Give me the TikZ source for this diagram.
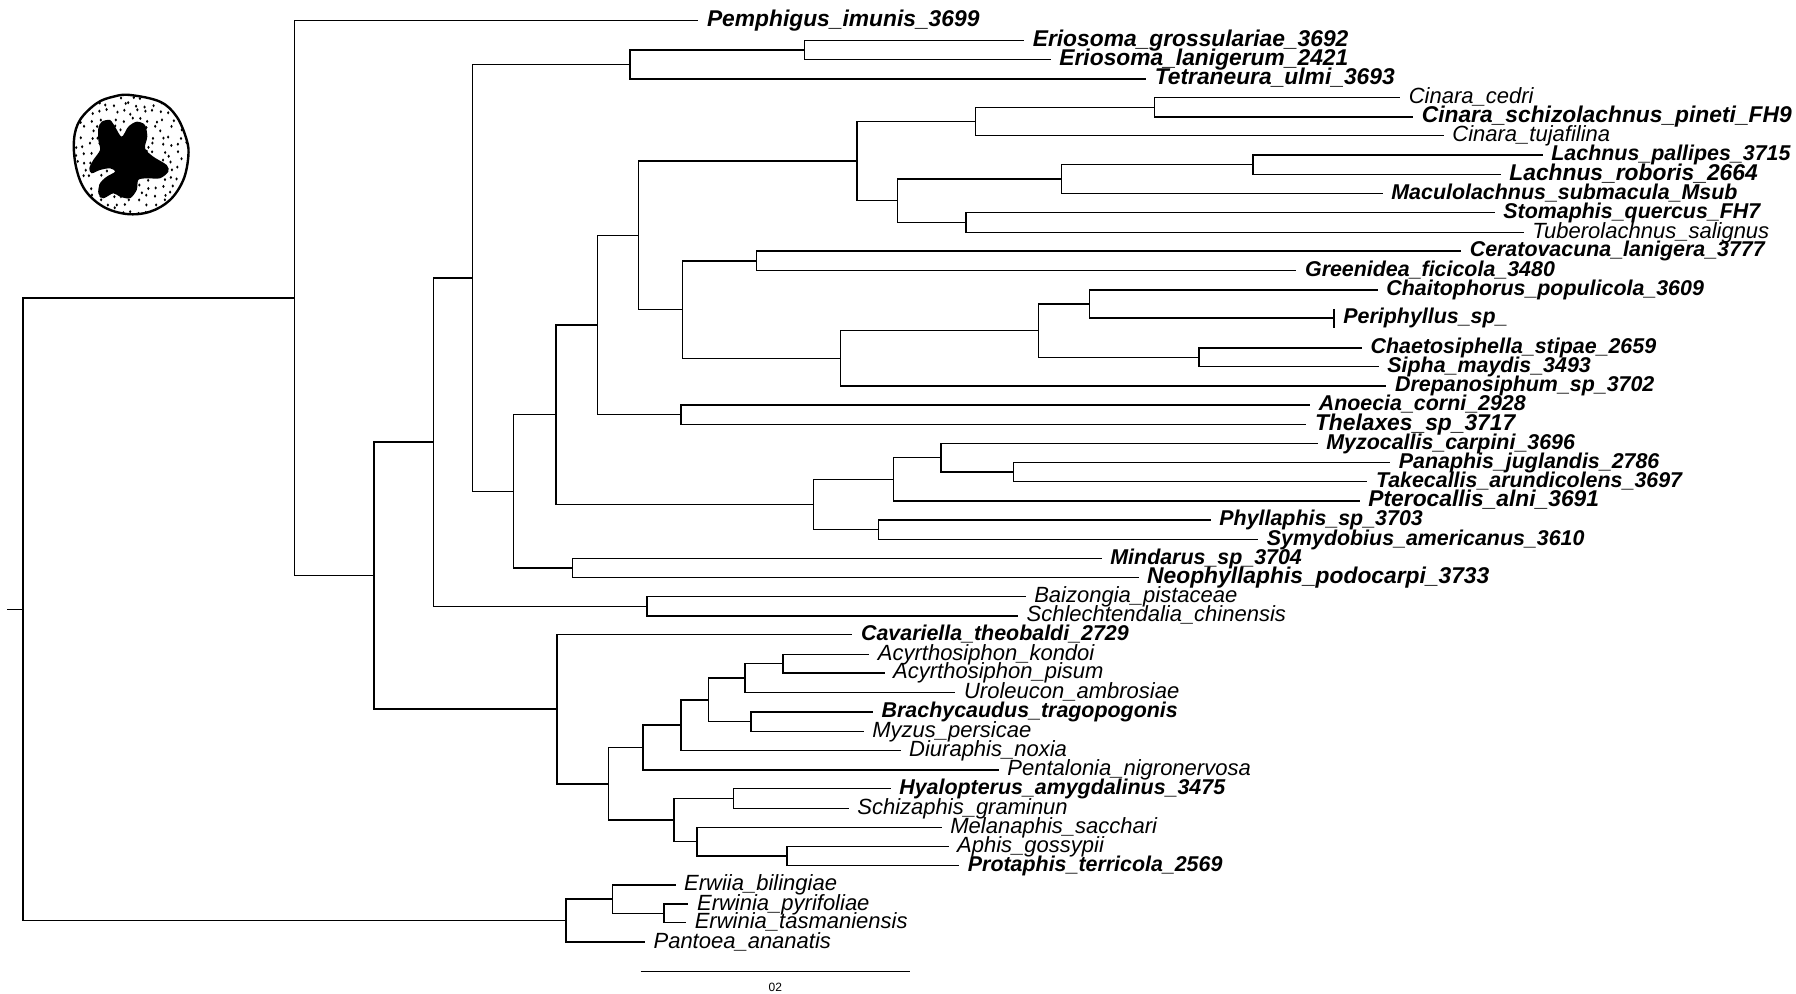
\documentclass[tikz,border=0pt]{standalone}
\usepackage{fontspec}
\setmainfont{Liberation Sans}
\usetikzlibrary{calc}

\begin{document}
\begin{tikzpicture}[
        x=0.5pt, y=-0.5pt,
        branch/.style={line width=0.75pt, line cap=rect},
        taxon/.style={anchor=base west, inner sep=0pt, xshift=4.5pt, yshift=-3pt,
            font=\fontsize{11}{13}\selectfont\itshape},
        taxonbold/.style={taxon, font=\fontsize{10.7}{13}\selectfont\bfseries\itshape},
        taxonheavy/.style={taxon, font=\fontsize{11.4}{13}\selectfont\bfseries\itshape} ]

    \useasboundingbox (0,0) rectangle (1796,994);

    % tips
    \foreach \n/\x/\y in {pem/697.6/20.7, erg/1023.4/40.7, erl/1050/59.3, tet/1145.4/79,
            cce/1399.4/97.7, csp/1412.4/117, ctu/1443/135.7, lpa/1542/155, lro/1500/174.3,
            mac/1382/193.3, sto/1494/212.3, tub/1523/232.3, cer/1460.4/251, gre/1295.7/270.7,
            cha/1377/290, per/1334/318, cst/1361.3/348, sip/1378/366.7, dre/1385.7/386,
            ano/1309.4/405, the/1305.6/424.3, myz/1317/443.3, pan/1389.5/462.7,
            tak/1366.6/481.7, pte/1359/501, phy/1210/520, sym/1257.5/539.3, min/1101/558.3,
            neo/1137.8/577.7, bai/1024.9/596.7, sch/1017.3/616, cav/851.7/634.7,
            ako/868.5/654.3, api/883.8/673, uro/954.7/692.7, bra/872.3/712, myp/863/731.3,
            diu/899.8/750.3, pen/998/770, hya/889.9/788.7, scz/848/808.7, mel/941/827.3,
            aph/947.8/846.3, pro/958.5/865.3, erb/674.8/885, epy/687.7/904, eta/685.4/922.7,
            pant/644.2/942} {
            \coordinate (\n) at (\x,\y);
        }

    % internal nodes, x at the split, y halfway between the children
    \foreach \n/\x/\y in {eri/804.4/50, ert/630/64.5, ci2/1154.6/107.35, ci3/975.3/121.5,
            la2/1253/164.65, la3/1061.5/179, stt/966/222.3, la4/897.5/200.65, la5/857/161.1,
            ceg/756.4/260.85, chp/1089.7/304, chs/1198.8/357.35, kk/1038.6/330.7,
            jj/840.3/358.35, ii/682.4/309.6, hh/638.4/235.35, ant/681/414.65, gg/597.3/325,
            pat/1013.4/472.2, nn/941/457.75, mm/893.7/479.4, phs/878.4/529.65, ll/813.6/504.5,
            ff/555.8/414.75, mne/572.7/568, ee/513.4/491.4, dd/472.3/278, bsc/646.8/606.35,
            cc/433.5/442.2, acc/783/663.65, acu/745/678.2, bmy/751/721.65, tt/708.3/699.9,
            ss/680.8/725.1, rr/642.8/747.55, hys/733.5/798.7, app/786.9/855.8, vv/696.9/841.55,
            uu/674/820.1, qq/608.5/783.8, pp/557.1/709.25, bb/374/575.7, aa/294.6/298.2,
            epp/663.8/913.35, erw/612.5/899.2, out/566/920.6, root/23.2/609.4} {
            \coordinate (\n) at (\x,\y);
        }
    \coordinate (stub) at (7.6,609.4);

    \draw[branch]
    \foreach \p/\c in {root/aa, root/out, aa/pem, aa/bb, bb/cc, bb/pp, cc/dd, cc/bsc,
            dd/ert, dd/ee, ert/eri, ert/tet, eri/erg, eri/erl, ee/ff, ee/mne, ff/gg, ff/ll,
            gg/hh, gg/ant, hh/la5, hh/ii, la5/ci3, la5/la4, ci3/ci2, ci3/ctu, ci2/cce, ci2/csp,
            la4/la3, la4/stt, la3/la2, la3/mac, la2/lpa, la2/lro, stt/sto, stt/tub,
            ii/ceg, ii/jj, ceg/cer, ceg/gre, jj/kk, jj/dre, kk/chp, kk/chs, chp/cha, chp/per,
            chs/cst, chs/sip, ant/ano, ant/the, ll/mm, ll/phs, mm/nn, mm/pte, nn/myz, nn/pat,
            pat/pan, pat/tak, phs/phy, phs/sym, mne/min, mne/neo, bsc/bai, bsc/sch,
            pp/cav, pp/qq, qq/rr, qq/uu, rr/ss, rr/pen, ss/tt, ss/diu, tt/acu, tt/bmy,
            acu/acc, acu/uro, acc/ako, acc/api, bmy/bra, bmy/myp, uu/hys, uu/vv,
            hys/hya, hys/scz, vv/mel, vv/app, app/aph, app/pro,
            out/erw, out/pant, erw/erb, erw/epp, epp/epy, epp/eta} {
            (\p) |- (\c)
        }
    (stub) -- (root);

    % short bar on the Periphyllus tip
    \coordinate (pertop) at (1334,309);
    \coordinate (perbot) at (1334,328);
    \draw[line width=0.6pt] (pertop) -- (perbot);

    % tip labels
    \foreach \n/\t in {cce/Cinara\_cedri, ctu/Cinara\_tujafilina, tub/Tuberolachnus\_salignus,
            bai/Baizongia\_pistaceae, sch/Schlechtendalia\_chinensis, ako/Acyrthosiphon\_kondoi,
            api/Acyrthosiphon\_pisum, uro/Uroleucon\_ambrosiae, myp/Myzus\_persicae,
            diu/Diuraphis\_noxia, pen/Pentalonia\_nigronervosa, scz/Schizaphis\_graminun,
            mel/Melanaphis\_sacchari, aph/Aphis\_gossypii, erb/Erwiia\_bilingiae,
            epy/Erwinia\_pyrifoliae, eta/Erwinia\_tasmaniensis, pant/Pantoea\_ananatis} {
            \node[taxon] (t-\n) at (\n) {\t};
        }
    \foreach \n/\t in {lpa/Lachnus\_pallipes\_3715, mac/Maculolachnus\_submacula\_Msub,
            sto/Stomaphis\_quercus\_FH7, cer/Ceratovacuna\_lanigera\_3777,
            gre/Greenidea\_ficicola\_3480, cha/Chaitophorus\_populicola\_3609,
            per/Periphyllus\_sp\_, cst/Chaetosiphella\_stipae\_2659, sip/Sipha\_maydis\_3493,
            dre/Drepanosiphum\_sp\_3702, ano/Anoecia\_corni\_2928, myz/Myzocallis\_carpini\_3696,
            pan/Panaphis\_juglandis\_2786, tak/Takecallis\_arundicolens\_3697,
            phy/Phyllaphis\_sp\_3703, sym/Symydobius\_americanus\_3610, min/Mindarus\_sp\_3704,
            cav/Cavariella\_theobaldi\_2729, bra/Brachycaudus\_tragopogonis,
            hya/Hyalopterus\_amygdalinus\_3475, pro/Protaphis\_terricola\_2569} {
            \node[taxonbold] (t-\n) at (\n) {\t};
        }
    \foreach \n/\t in {pem/Pemphigus\_imunis\_3699, erg/Eriosoma\_grossulariae\_3692,
            erl/Eriosoma\_lanigerum\_2421, tet/Tetraneura\_ulmi\_3693,
            csp/Cinara\_schizolachnus\_pineti\_FH9, lro/Lachnus\_roboris\_2664,
            the/Thelaxes\_sp\_3717, pte/Pterocallis\_alni\_3691,
            neo/Neophyllaphis\_podocarpi\_3733} {
            \node[taxonheavy] (t-\n) at (\n) {\t};
        }

    % scale bar
    \coordinate (sb0) at (640.7,971.7);
    \coordinate (sb1) at (910,971.7);
    \draw[line width=0.75pt] (sb0) -- (sb1)
        node[midway, yshift=-8pt, inner sep=0pt, font=\fontsize{6}{7}\selectfont] (sblabel) {02};

    % cell sketch: stippled rim with dark nucleus
    \begin{scope}
        \clip plot[smooth cycle, tension=0.6] coordinates {(130,95) (160,101.7) (176.7,116.7)
            (186.7,140) (188.3,156.7) (183.3,180) (170,200) (150,211.7) (126.7,214)
            (103.3,206.7) (85,190) (76,166.7) (74,140) (80,120) (96.7,103.3) (113.3,96.7)};
        \pgfmathsetseed{11}
        \foreach \gx in {0,...,14} {
            \foreach \gy in {0,...,14} {
                \pgfmathsetmacro{\dx}{75+8*\gx+3*rand}
                \pgfmathsetmacro{\dy}{96+8.2*\gy+3*rand}
                \fill (\dx,\dy) ellipse (0.6pt and 0.8pt);
            }
        }
    \end{scope}
    \fill[black] plot[smooth cycle, tension=0.5] coordinates {(101.7,121.7) (110,120)
        (115,126.7) (121.7,136.7) (128.3,126.7) (136.7,121.7) (145,125) (147.3,136.7)
        (145,148.3) (153.3,156.7) (166.7,165) (168.3,171.7) (160,178.3) (146.7,178.3)
        (138.3,180) (136.7,190) (130,198.3) (120,196.7) (113.3,193.3) (103.3,198.3)
        (98.3,193.3) (100,183.3) (106.7,176.7) (115,171.7) (110,168.3) (100,170)
        (91.7,173.3) (89.3,168.3) (93.3,160) (100,150) (98.3,140) (98.3,128.3)};
    \draw[line width=1.2pt] plot[smooth cycle, tension=0.6] coordinates {(130,95) (160,101.7)
        (176.7,116.7) (186.7,140) (188.3,156.7) (183.3,180) (170,200) (150,211.7)
        (126.7,214) (103.3,206.7) (85,190) (76,166.7) (74,140) (80,120) (96.7,103.3)
        (113.3,96.7)};

\end{tikzpicture}
\end{document}
